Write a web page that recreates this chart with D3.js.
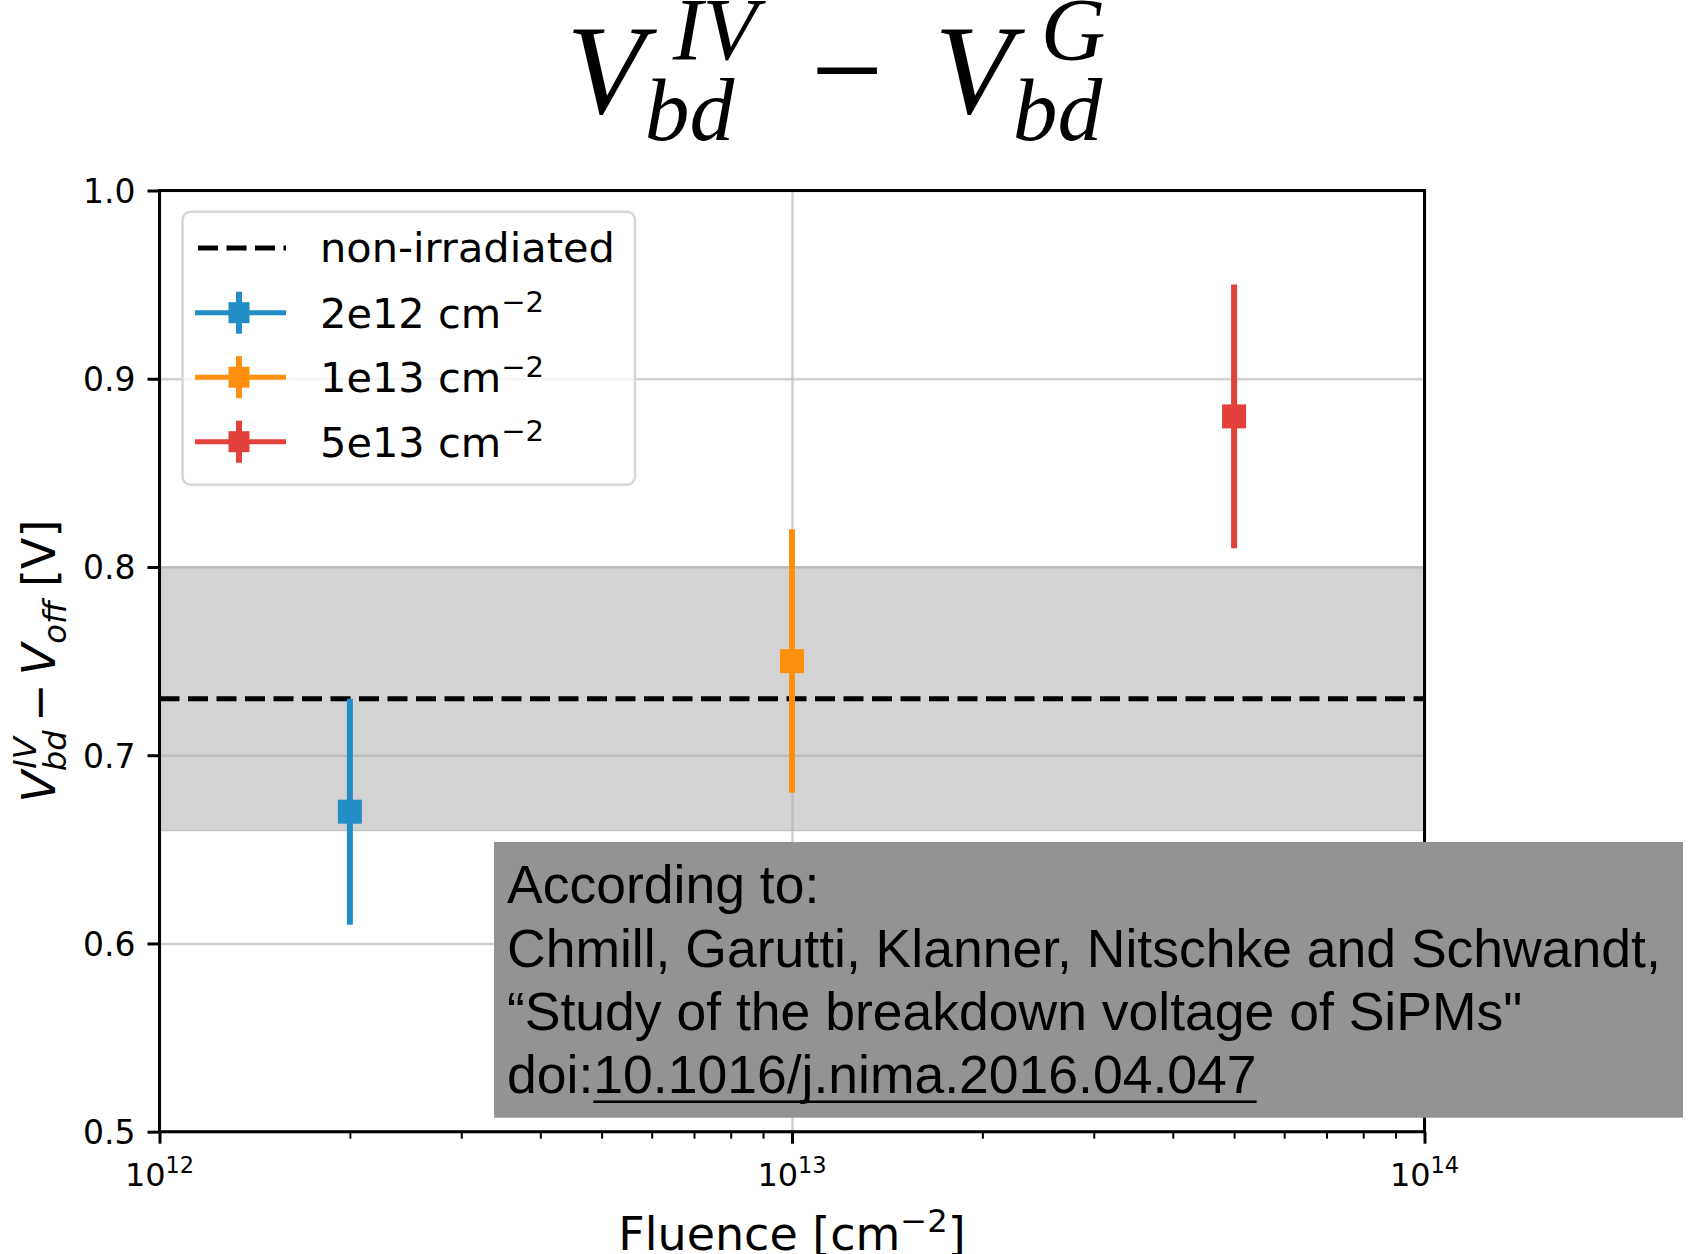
<!DOCTYPE html>
<html>
<head>
<meta charset="utf-8">
<script src="https://cdn.jsdelivr.net/npm/d3@7"></script>
<style>
    body { margin: 0; background: #fff; }
    svg { display: block; }
    text { font-family: "DejaVu Sans", sans-serif; fill: #000; }
</style>
</head>
<body>
<svg id="chart"></svg>
<script>
// Data
var fluences = [2e12, 1e13, 5e13];
var seriesNames = ["2e12", "1e13", "5e13"];
var values = [0.67, 0.75, 0.88];
var errLow = [0.61, 0.68, 0.81];
var errHigh = [0.73, 0.82, 0.95];
var seriesColors = ["#238dc6", "#ff8f0f", "#e2403a"];
var refValue = 0.73;
var refBand = [0.66, 0.80];
var xDomain = [1e12, 1e14];
var yDomain = [0.5, 1.0];
var xMajorTicks = [1e12, 1e13, 1e14];
var xExponents = ["12", "13", "14"];
var yTicks = [0.5, 0.6, 0.7, 0.8, 0.9, 1.0];
var noteLines = [
    "According to:",
    "Chmill, Garutti, Klanner, Nitschke and Schwandt,",
    "\u201cStudy of the breakdown voltage of SiPMs\"",
    "doi:"
];
var doiText = "10.1016/j.nima.2016.04.047";

document.addEventListener("DOMContentLoaded", function () {
    var W = 1691, H = 1254;
    var left = 159.5, right = 1424.5, top = 190.5, bottom = 1131.7;

    var svg = d3.select("#chart").attr("width", W).attr("height", H);

    var x = d3.scaleLog().domain(xDomain).range([left, right]);
    var y = d3.scaleLinear().domain(yDomain).range([bottom, top]);

    // small helper for mathtext-like labels (base, sub, sup)
    function mathLabel(parent, parts, size, family) {
        var g = parent.append("g");
        var pos = 0;
        function put(str, px, py, fs, italic) {
            var t = g.append("text")
                .attr("x", px).attr("y", py)
                .style("font-family", family)
                .style("font-size", fs + "px")
                .style("font-style", italic ? "italic" : "normal")
                .text(str);
            return t.node().getComputedTextLength();
        }
        parts.forEach(function (p) {
            if (p.gap) { pos += p.gap * size; return; }
            if (p.t !== undefined) {
                pos += put(p.t, pos, 0, size, p.it);
                return;
            }
            var w = 0;
            var s = size * 0.7;
            if (p.sub) w = Math.max(w, put(p.sub, pos + (p.subDx || 0) * size, size * (p.subShift || 0.21), s, p.it));
            if (p.sup) w = Math.max(w, (p.supDx || 0) * size + put(p.sup, pos + (p.supDx || 0) * size, -size * (p.supShift || 0.42), s, p.it));
            pos += w;
        });
        return { g: g, width: pos };
    }

    // Reference band (non-irradiated uncertainty)
    svg.append("rect")
        .attr("x", left)
        .attr("y", y(refBand[1]))
        .attr("width", right - left)
        .attr("height", y(refBand[0]) - y(refBand[1]))
        .style("fill", "#d3d3d3")
        .style("stroke", "#c4c4c4")
        .style("stroke-width", 1.5);

    // Grid
    svg.append("g")
        .attr("transform", "translate(" + left + ",0)")
        .call(d3.axisLeft(y).tickValues(yTicks).tickSize(-(right - left)).tickFormat(""))
        .call(function (g) { g.select(".domain").remove(); })
        .selectAll("line").style("stroke", "#b0b0b0").style("stroke-opacity", 0.6).style("stroke-width", 2.5);

    svg.append("g")
        .attr("transform", "translate(0," + bottom + ")")
        .call(d3.axisBottom(x).tickValues(xMajorTicks).tickSize(-(bottom - top)).tickFormat(""))
        .call(function (g) { g.select(".domain").remove(); })
        .selectAll("line").style("stroke", "#b0b0b0").style("stroke-opacity", 0.6).style("stroke-width", 2.5);

    // Non-irradiated reference line
    svg.append("line")
        .attr("x1", x(xDomain[0])).attr("x2", x(xDomain[1]))
        .attr("y1", y(refValue)).attr("y2", y(refValue))
        .style("stroke", "#000")
        .style("stroke-width", 5)
        .style("stroke-dasharray", "20,8.5");

    // error bar + square marker
    function errorMark(g, cx, cy, y1, y2, color, msize) {
        g.append("line")
            .attr("x1", cx).attr("x2", cx).attr("y1", y1).attr("y2", y2)
            .style("stroke", color).style("stroke-width", 6);
        g.append("rect")
            .attr("x", cx - msize / 2).attr("y", cy - msize / 2)
            .attr("width", msize).attr("height", msize)
            .style("fill", color);
    }

    var points = svg.append("g");
    fluences.forEach(function (f, i) {
        errorMark(points, x(f), y(values[i]), y(errHigh[i]), y(errLow[i]), seriesColors[i], 24);
    });

    // Axes
    var yAxis = svg.append("g")
        .attr("transform", "translate(" + left + ",0)")
        .call(d3.axisLeft(y).tickValues(yTicks).tickSize(12).tickPadding(12).tickFormat(d3.format(".1f")));
    yAxis.select(".domain").remove();
    yAxis.selectAll("line").style("stroke", "#000").style("stroke-width", 3);
    yAxis.selectAll("text").style("font-size", "33px").attr("dy", "0.36em");

    var xAxis = svg.append("g")
        .attr("transform", "translate(0," + bottom + ")")
        .call(d3.axisBottom(x).tickValues(xMajorTicks).tickSize(12).tickFormat(""));
    xAxis.select(".domain").remove();
    xAxis.selectAll("line").style("stroke", "#000").style("stroke-width", 3);

    var minorTicks = x.ticks().filter(function (d) { return xMajorTicks.indexOf(d) < 0; });
    var xMinor = svg.append("g")
        .attr("transform", "translate(0," + bottom + ")")
        .call(d3.axisBottom(x).tickValues(minorTicks).tickSize(7).tickFormat(""));
    xMinor.select(".domain").remove();
    xMinor.selectAll("line").style("stroke", "#000").style("stroke-width", 2);

    // x tick labels 10^n
    xMajorTicks.forEach(function (t, i) {
        var m = mathLabel(svg, [{ t: "10" }, { sup: xExponents[i], supShift: 0.42 }], 32, "DejaVu Sans");
        m.g.attr("transform", "translate(" + (x(t) - m.width / 2) + ",1186)");
    });

    // Frame
    svg.append("rect")
        .attr("x", left).attr("y", top)
        .attr("width", right - left).attr("height", bottom - top)
        .style("fill", "none").style("stroke", "#000").style("stroke-width", 3);

    // Axis labels
    var xl = mathLabel(svg, [{ t: "Fluence [cm" }, { sup: "\u22122", supShift: 0.4 }, { t: "]" }], 46, "DejaVu Sans");
    xl.g.attr("transform", "translate(" + ((left + right) / 2 - xl.width / 2) + ",1250)");

    var yl = mathLabel(svg, [
        { t: "V", it: true },
        { sub: "bd", sup: "IV", it: true, supDx: 0.05, subShift: 0.24 },
        { gap: 0.18 }, { t: "\u2212" }, { gap: 0.18 },
        { t: "V", it: true },
        { sub: "off", it: true, subShift: 0.24 },
        { gap: 0.3 }, { t: "[V]" }
    ], 46, "DejaVu Sans");
    yl.g.attr("transform", "translate(55," + ((top + bottom) / 2) + ") rotate(-90) translate(" + (-yl.width / 2) + ",0)");

    // Title
    var title = mathLabel(svg, [
        { t: "V", it: true },
        { sub: "bd", sup: "IV", it: true, supDx: 0.22, subShift: 0.21, supShift: 0.42 },
        { gap: 0.42 }, { t: "\u2212" }, { gap: 0.4 },
        { t: "V", it: true },
        { sub: "bd", sup: "G", it: true, supDx: 0.22, subShift: 0.21, supShift: 0.42 }
    ], 128, "Liberation Serif");
    title.g.attr("transform", "translate(" + (836 - title.width / 2) + ",113)");

    // Legend
    var legend = svg.append("g");
    legend.append("rect")
        .attr("x", 182.5).attr("y", 211.7)
        .attr("width", 452.5).attr("height", 273)
        .attr("rx", 8)
        .style("fill", "#fff").style("fill-opacity", 0.8)
        .style("stroke", "#d6d6d6").style("stroke-width", 2.5);

    legend.append("line")
        .attr("x1", 198).attr("x2", 286).attr("y1", 248).attr("y2", 248)
        .style("stroke", "#000").style("stroke-width", 5).style("stroke-dasharray", "20,8.5");
    legend.append("text")
        .attr("x", 320).attr("y", 261.7)
        .style("font-size", "41.5px")
        .text("non-irradiated");

    seriesNames.forEach(function (name, i) {
        var cy = 312.7 + i * 64.5;
        legend.append("line")
            .attr("x1", 195).attr("x2", 286).attr("y1", cy).attr("y2", cy)
            .style("stroke", seriesColors[i]).style("stroke-width", 5);
        errorMark(legend, 239, cy, cy - 21, cy + 21, seriesColors[i], 21);
        var m = mathLabel(legend, [{ t: name }, { gap: 0.318 }, { t: "cm" }, { sup: "\u22122", supShift: 0.37 }], 41.5, "DejaVu Sans");
        m.g.attr("transform", "translate(320," + (cy + 15) + ")");
    });

    // Citation note box
    var note = svg.append("g");
    note.append("rect")
        .attr("x", 494).attr("y", 842)
        .attr("width", 1683 - 494).attr("height", 1117.7 - 842)
        .style("fill", "#939393");
    var noteBase = [902.7, 966.7, 1030, 1093];
    noteLines.forEach(function (line, i) {
        note.append("text")
            .attr("x", 507).attr("y", noteBase[i])
            .style("font-family", "'Liberation Sans', Arial, sans-serif")
            .style("font-size", "53.5px")
            .text(line);
    });
    var doiPrefix = note.selectAll("text").filter(function (d, i) { return i === 3; }).node();
    var doiX = 507 + doiPrefix.getComputedTextLength();
    var doiNode = note.append("text")
        .attr("x", doiX).attr("y", noteBase[3])
        .style("font-family", "'Liberation Sans', Arial, sans-serif")
        .style("font-size", "53.5px")
        .text(doiText);
    note.append("line")
        .attr("x1", doiX).attr("x2", doiX + doiNode.node().getComputedTextLength())
        .attr("y1", 1101.7).attr("y2", 1101.7)
        .style("stroke", "#000").style("stroke-width", 2.5);
});
</script>
</body>
</html>
